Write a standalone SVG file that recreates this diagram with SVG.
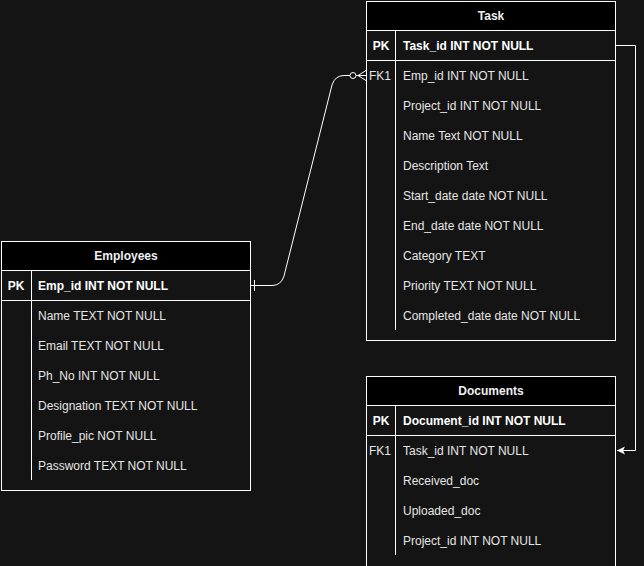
<svg xmlns="http://www.w3.org/2000/svg" width="644" height="566" viewBox="0 0 644 566">
<defs>
<style>
.box{fill:#141414;stroke:#ffffff;stroke-width:1}
.hdr{fill:#000000;stroke:#ffffff;stroke-width:1}
.ln{stroke:#ffffff;stroke-width:1;fill:none}
.t{font-family:"Liberation Sans",Arial,sans-serif;font-size:12px;fill:#e6e6e6}
.h{font-weight:bold;fill:#f0f0f0}
.b{font-weight:bold;fill:#ffffff}
.c{text-anchor:middle}
.conn{stroke:#ffffff;stroke-width:1;fill:none}
</style>
<marker id="arr" markerWidth="10" markerHeight="10" refX="9" refY="5" orient="auto" markerUnits="userSpaceOnUse">
<path d="M1,1 L9,5 L1,9 L3,5 Z" fill="#ffffff"/>
</marker>
</defs>
<rect width="644" height="566" fill="#141414"/>

<g id="task">
<rect class="box" x="366.5" y="1.5" width="249" height="339"/>
<rect class="hdr" x="366.5" y="1.5" width="249" height="29"/>
<text class="t h c" x="491" y="20">Task</text>
<line class="ln" x1="366.5" y1="60.5" x2="615.5" y2="60.5"/>
<line class="ln" x1="395.5" y1="30.5" x2="395.5" y2="330"/>
<text class="t b c" x="381" y="50">PK</text>
<text class="t b" x="403" y="50">Task_id INT NOT NULL</text>
<text class="t c" x="380" y="80">FK1</text>
<text class="t" x="403" y="80">Emp_id INT NOT NULL</text>
<text class="t" x="403" y="110">Project_id INT NOT NULL</text>
<text class="t" x="403" y="140">Name Text NOT NULL</text>
<text class="t" x="403" y="170">Description Text</text>
<text class="t" x="403" y="200">Start_date date NOT NULL</text>
<text class="t" x="403" y="230">End_date date NOT NULL</text>
<text class="t" x="403" y="260">Category TEXT</text>
<text class="t" x="403" y="290">Priority TEXT NOT NULL</text>
<text class="t" x="403" y="320">Completed_date date NOT NULL</text>
</g>

<g id="employees">
<rect class="box" x="1.5" y="241.5" width="249" height="249"/>
<rect class="hdr" x="1.5" y="241.5" width="249" height="29"/>
<text class="t h c" x="126" y="260">Employees</text>
<line class="ln" x1="1.5" y1="300.5" x2="250.5" y2="300.5"/>
<line class="ln" x1="31.5" y1="270.5" x2="31.5" y2="480"/>
<text class="t b c" x="16" y="290">PK</text>
<text class="t b" x="38" y="290">Emp_id INT NOT NULL</text>
<text class="t" x="38" y="320">Name TEXT NOT NULL</text>
<text class="t" x="38" y="350">Email TEXT NOT NULL</text>
<text class="t" x="38" y="380">Ph_No INT NOT NULL</text>
<text class="t" x="38" y="410">Designation TEXT NOT NULL</text>
<text class="t" x="38" y="440">Profile_pic NOT NULL</text>
<text class="t" x="38" y="470">Password TEXT NOT NULL</text>
</g>

<g id="documents">
<rect class="box" x="366.5" y="376.5" width="249" height="199"/>
<rect class="hdr" x="366.5" y="376.5" width="249" height="29"/>
<text class="t h c" x="491" y="395">Documents</text>
<line class="ln" x1="366.5" y1="435.5" x2="615.5" y2="435.5"/>
<line class="ln" x1="395.5" y1="405.5" x2="395.5" y2="555"/>
<text class="t b c" x="381" y="425">PK</text>
<text class="t b" x="403" y="425">Document_id INT NOT NULL</text>
<text class="t c" x="380" y="455">FK1</text>
<text class="t" x="403" y="455">Task_id INT NOT NULL</text>
<text class="t" x="403" y="485">Received_doc</text>
<text class="t" x="403" y="515">Uploaded_doc</text>
<text class="t" x="403" y="545">Project_id INT NOT NULL</text>
</g>

<g id="connectors">
<path class="conn" d="M250.5,285.5 L272,285.5 Q281,285.5 284,276 L332,85 Q335,75.5 344,75.5 L350,75.5"/>
<line class="conn" x1="254.5" y1="280" x2="254.5" y2="291"/>
<circle class="conn" cx="353" cy="75.5" r="3"/>
<path class="conn" d="M356,75.5 L366,75.5 M358,75.5 L366,70.5 M358,75.5 L366,80.5"/>
<path class="conn" d="M615.5,45.5 L635.5,45.5 L635.5,450.5 L617,450.5" marker-end="url(#arr)"/>
</g>
</svg>
